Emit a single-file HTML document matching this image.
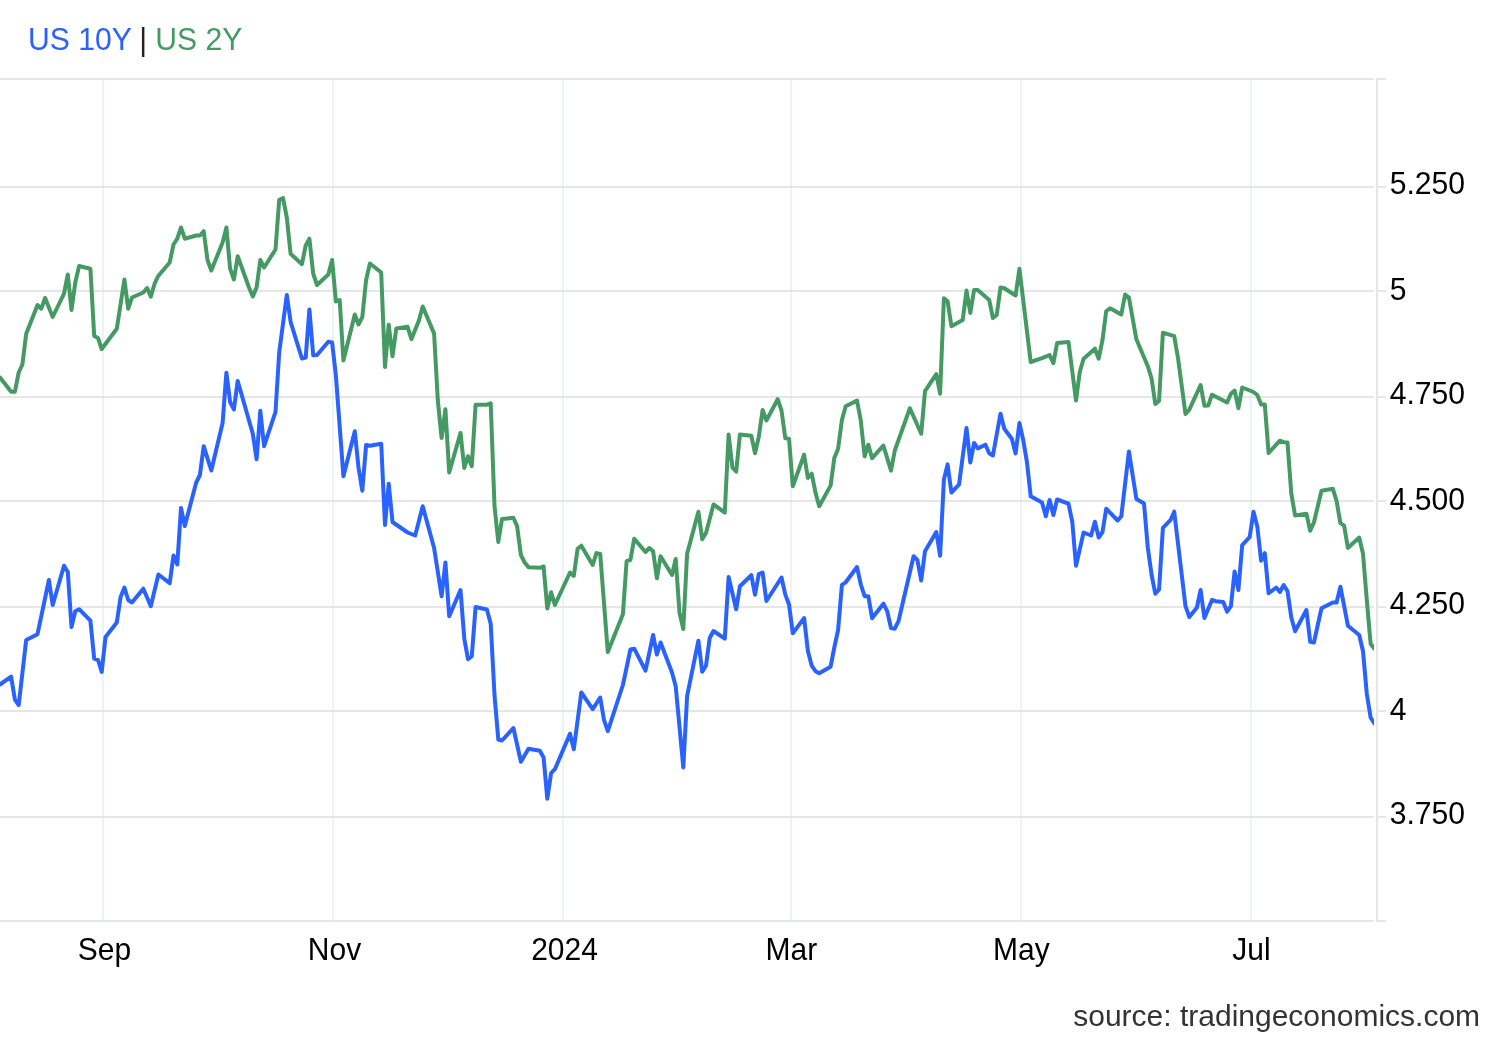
<!DOCTYPE html>
<html><head><meta charset="utf-8"><title>US 10Y | US 2Y</title>
<style>
html,body{margin:0;padding:0;background:#fff}
body{width:1500px;height:1040px;overflow:hidden;font-family:"Liberation Sans",Arial,sans-serif}
svg{display:block}
text{font-family:"Liberation Sans",Arial,sans-serif;font-size:30px}
</style></head><body>
<svg width="1500" height="1040" viewBox="0 0 1500 1040">
<rect width="1500" height="1040" fill="#fff"/>
<defs><clipPath id="pa"><rect x="0" y="80" width="1374" height="840"/></clipPath></defs>

<g fill="#ecf3f5" shape-rendering="crispEdges">
<rect x="102" y="80" width="2" height="840"/>
<rect x="332" y="80" width="2" height="840"/>
<rect x="562" y="80" width="2" height="840"/>
<rect x="790" y="80" width="2" height="840"/>
<rect x="1020" y="80" width="2" height="840"/>
<rect x="1250" y="80" width="2" height="840"/>
</g>
<g fill="#e6e6e6" shape-rendering="crispEdges">
<rect x="0" y="78" width="1374" height="2"/>
<rect x="0" y="186" width="1374" height="2"/>
<rect x="0" y="290" width="1374" height="2"/>
<rect x="0" y="396" width="1374" height="2"/>
<rect x="0" y="500" width="1374" height="2"/>
<rect x="0" y="606" width="1374" height="2"/>
<rect x="0" y="710" width="1374" height="2"/>
<rect x="0" y="816" width="1374" height="2"/>
<rect x="0" y="920" width="1374" height="2"/>
<rect x="1376" y="78" width="2" height="844"/>
<rect x="1376" y="78" width="10" height="2"/>
<rect x="1376" y="186" width="10" height="2"/>
<rect x="1376" y="290" width="10" height="2"/>
<rect x="1376" y="396" width="10" height="2"/>
<rect x="1376" y="500" width="10" height="2"/>
<rect x="1376" y="606" width="10" height="2"/>
<rect x="1376" y="710" width="10" height="2"/>
<rect x="1376" y="816" width="10" height="2"/>
<rect x="1376" y="920" width="10" height="2"/>
</g>
<g clip-path="url(#pa)" fill="none" stroke-width="4" stroke-linejoin="round" stroke-linecap="round">
<polyline stroke="#459a64" points="0,377.5 11.1,391.7 14.9,391.7 18.7,372.5 22.4,364.5 26.2,333.7 37.5,305 41.3,308.7 45.1,298 52.7,317 64,293.7 67.8,274.5 71.5,310 75.3,282.5 79.1,266 90.4,268.7 94.2,336 98,338 101.7,349 116.8,328.7 124.4,279.5 128.2,308.7 132,297.5 143.3,292.5 147.1,288 150.8,296.7 154.6,283.7 158.4,275.7 169.7,262.5 173.5,244.5 177.3,238.7 181,227.5 184.8,238.7 196.2,235.5 199.9,235.5 203.7,231.2 207.5,260 211.3,270.5 222.6,242.5 226.4,227.5 230.1,268.7 233.9,279.5 237.7,256.2 249,287.5 252.8,296.5 256.6,287.5 260.3,260 264.1,267.5 275.5,249.5 279.2,200 283,198 286.8,217.5 290.6,253.7 301.9,264.2 305.7,245.5 309.4,238.7 313.2,273.7 317,285 328.3,274.5 332.1,260 335.9,301.5 339.7,300 343.4,360.5 354.8,314.5 358.5,324.5 362.3,317.2 366.1,280 369.9,263.5 381.2,272.5 385,367 388.7,324.7 392.5,356.2 396.3,328.4 407.6,326.8 411.4,339.2 419,320.2 422.7,306.5 434.1,333.6 437.8,400 441.6,438 445.4,409.2 449.2,472.5 460.5,433 464.3,468 468,456.2 471.8,466.2 475.6,404.7 486.9,404.7 490.7,403.4 494.5,506 498.3,542 502,519 513.4,517.8 517.1,526.2 520.9,555 524.7,562.5 528.5,567.3 539.8,567.8 543.6,566.5 547.3,608.5 551.1,592.2 554.9,605 570,572.5 573.8,576 577.6,548.7 581.3,545.7 592.7,565 596.4,553.1 600.2,554 607.8,652 622.9,614.3 626.6,561.2 630.4,560 634.2,538.7 645.5,552 649.3,548 653.1,551.2 656.9,578.3 660.6,556.2 672,575 675.7,559 679.5,612.8 683.3,629 687.1,553.7 698.4,511.7 702.2,539.2 706,533 713.5,504.5 724.8,512.5 728.6,434.5 732.4,467.5 736.2,471.7 739.9,434.5 751.3,435.7 755,453.2 758.8,436.7 762.6,410 766.4,420.5 777.7,399.2 781.5,410.5 785.3,438.2 789,438.7 792.8,486.2 804.1,454.7 807.9,478 811.7,473.7 815.5,492.6 819.2,506.2 830.6,485.6 834.3,458 838.1,448.7 841.9,420 845.7,406.2 857,400.6 860.8,420.6 864.6,456.4 868.3,444.7 872.1,458.1 883.4,445.6 891,470.6 894.8,450.5 909.9,408.2 921.2,433.7 925,391.2 936.3,374.2 940.1,393.7 943.9,298.2 947.6,301.2 951.4,326.2 962.7,320 966.5,290.5 970.3,313 974.1,290 977.8,290 989.2,300 992.9,318 996.7,315 1000.5,287.5 1004.3,288.2 1015.6,295.5 1019.4,268.7 1030.7,362 1042,358.2 1049.6,355 1053.4,363.2 1057.1,343 1068.5,342 1076,400.5 1079.8,371.7 1083.6,358.7 1094.9,348.7 1098.7,358.7 1102.5,340 1106.2,311.2 1110,308.2 1121.3,314.5 1125.1,294.5 1128.9,297.5 1136.4,339.3 1147.8,366.2 1151.6,378.7 1155.3,404 1159.1,400.7 1162.9,332.7 1174.2,336.2 1178,358 1185.5,414 1189.3,409.7 1200.6,385 1204.4,405.7 1208.2,405.6 1212,394.7 1227.1,402.5 1230.9,393.7 1234.6,390.5 1238.4,408.2 1242.2,387.5 1253.5,392 1257.3,395 1261.1,404.5 1264.8,404.5 1268.6,453 1279.9,440.7 1283.7,442.2 1287.5,442.6 1291.3,493.7 1295.1,515.5 1306.4,513.7 1310.2,530.7 1313.9,522.5 1321.5,490.7 1332.8,488.7 1336.6,501.2 1340.4,523.2 1344.1,525.7 1347.9,548 1359.2,537.5 1363,553.7 1366.8,600 1370.6,643.7 1374.4,648.8"/>
<polyline stroke="#2962ff" points="0,684.5 11.1,676.7 14.9,699.5 18.7,705 26.2,640 37.5,634.2 48.9,580 52.7,605 64,565.7 67.8,572 71.5,627 75.3,611.2 79.1,609.2 90.4,620.7 94.2,658.7 98,660 101.7,672 105.5,637 116.8,622.5 120.6,597 124.4,587.5 128.2,600 132,602.5 143.3,588.7 150.8,606.2 158.4,574.5 169.7,583.2 173.5,555.5 177.3,564.5 181,508 184.8,526 196.2,482.5 199.9,475 203.7,446.2 211.3,470.5 222.6,423 226.4,372.7 230.1,402 233.9,409.4 237.7,381 252.8,433.7 256.6,459.2 260.3,410.8 264.1,446.2 275.5,411.8 279.2,352.5 286.8,295 290.6,321.8 301.9,358.5 305.7,357.5 309.4,309.5 313.2,355.2 317,355 328.3,341.8 332.1,342.5 335.9,375.6 343.4,476.2 354.8,431.2 358.5,467.5 362.3,490.7 366.1,445 369.9,445.7 381.2,443.7 385,525 388.7,483.7 392.5,522 407.6,532.5 415.2,535.5 422.7,506.2 434.1,548 441.6,596.2 445.4,562.5 449.2,616.2 460.5,590 464.3,638.7 468,659.2 471.8,656.2 475.6,607 486.9,609.5 490.7,623.7 494.5,695 498.3,739.5 502,740.5 513.4,728 520.9,761.7 528.5,748.7 539.8,750.7 543.6,757.5 547.3,798.7 551.1,773.2 554.9,769.2 570,733.7 573.8,749.2 581.3,692.5 592.7,709.2 600.2,697.5 604,720 607.8,731.2 622.9,685 630.4,649.5 634.2,648.7 645.5,670.7 653.1,635 656.9,654.5 660.6,642.5 672,672.5 675.7,686.2 683.3,767.5 687.1,696.2 698.4,640.7 702.2,671.7 706,665.7 709.7,638 713.5,631 724.8,638.7 728.6,577 736.2,609.2 739.9,586.2 751.3,575.2 755,594.7 758.8,574 762.6,572.5 766.4,601 781.5,577.5 785.3,594.6 789,604.5 792.8,633.2 804.1,618.1 807.9,651 811.7,665.7 815.5,671.2 819.2,673.2 830.6,666.7 834.3,647.5 838.1,630 841.9,584.8 845.7,582.3 857,567 860.8,584.5 864.6,596.2 868.3,596.2 872.1,618.2 883.4,603.7 887.2,611.2 891,628 894.8,628.7 898.5,621.2 913.6,556.2 917.4,560 921.2,580.5 925,551.2 936.3,532 940.1,555.7 943.9,479.5 947.6,464.4 951.4,492.5 959,484.7 966.5,428 970.3,462.5 974.1,443 977.8,448.4 985.4,444.7 989.2,453.3 992.9,455.5 1000.5,413.7 1004.3,428.7 1011.8,438.7 1015.6,453.4 1019.4,423 1023.2,440 1026.9,461.8 1030.7,496.2 1042,502.5 1045.8,516.2 1049.6,500 1053.4,515 1057.1,499.5 1068.5,503.7 1072.3,522 1076,565.7 1083.6,532.5 1091.1,535.5 1094.9,521.7 1098.7,537.5 1102.5,532 1106.2,508.7 1117.6,520.5 1121.3,516.2 1128.9,451.4 1136.4,499 1144,503.4 1147.8,547.5 1151.6,575 1155.3,593.7 1159.1,589.5 1162.9,527.8 1170.4,520.2 1174.2,511.7 1185.5,606.2 1189.3,617 1196.9,607.5 1200.6,590 1204.4,618 1212,600 1215.7,601.2 1223.3,602 1227.1,611.7 1230.9,606.2 1234.6,571.5 1238.4,590 1242.2,545.2 1249.7,537 1253.5,511.7 1257.3,526.4 1261.1,560.7 1264.8,553.2 1268.6,593.2 1276.2,587.5 1279.9,592 1283.7,585 1287.5,591.2 1291.3,617.5 1295.1,631.2 1306.4,610 1310.2,641.7 1313.9,642.5 1321.5,608.2 1332.8,602.5 1336.6,602.5 1340.4,586.7 1347.9,625.7 1359.2,635 1363,651.2 1366.8,693.7 1370.6,717.5 1374.4,723.5"/>
</g>
<g fill="#000">
<text transform="translate(1389.7,194) scale(1.004,1.06)">5.250</text>
<text transform="translate(1389.7,300) scale(1.004,1.06)">5</text>
<text transform="translate(1389.7,404) scale(1.004,1.06)">4.750</text>
<text transform="translate(1389.7,510) scale(1.004,1.06)">4.500</text>
<text transform="translate(1389.7,614) scale(1.004,1.06)">4.250</text>
<text transform="translate(1389.7,720) scale(1.004,1.06)">4</text>
<text transform="translate(1389.7,824) scale(1.004,1.06)">3.750</text>
<text transform="translate(104.5,959.5) scale(1,1.03)" text-anchor="middle">Sep</text>
<text transform="translate(334.5,959.5) scale(1,1.03)" text-anchor="middle">Nov</text>
<text transform="translate(564.5,959.5) scale(1,1.06)" text-anchor="middle">2024</text>
<text transform="translate(791.3,959.5) scale(1,1.03)" text-anchor="middle">Mar</text>
<text transform="translate(1021.35,959.5) scale(1,1.03)" text-anchor="middle">May</text>
<text transform="translate(1251.5,959.5) scale(1,1.03)" text-anchor="middle">Jul</text>
</g>
<text transform="translate(27.9,49.5) scale(1.005,1.06)"><tspan fill="#2962ff">US 10Y</tspan><tspan fill="#222" dx="-0.8"> | </tspan><tspan fill="#459a64" dx="-0.3">US 2Y</tspan></text>
<text x="1480.1" y="1025.5" text-anchor="end" fill="#333">source: tradingeconomics.com</text>
</svg></body></html>
